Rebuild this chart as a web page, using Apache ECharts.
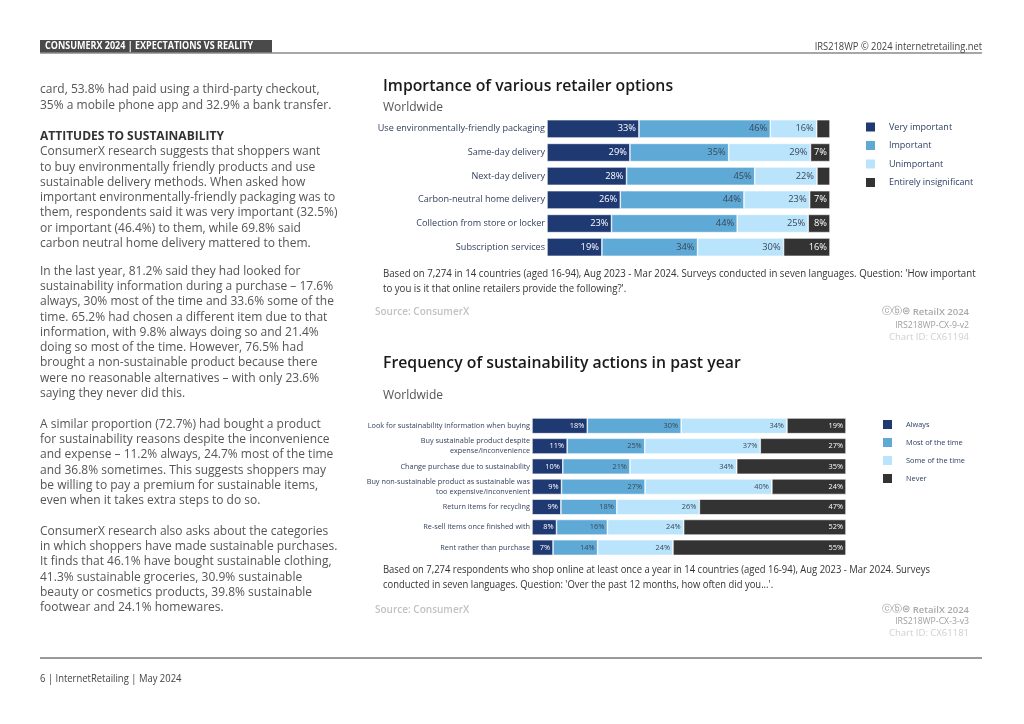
<!DOCTYPE html>
<html>
<head>
<meta charset="utf-8">
<script src="https://cdn.jsdelivr.net/npm/echarts@6/dist/echarts.min.js"></script>
<style>
html,body{margin:0;padding:0;background:#fff;}
#main{width:1024px;height:724px;}
</style>
</head>
<body>
<div id="main"></div>
<script>
// ---- Chart 1 data ----
const cats1 = ['Use environmentally-friendly packaging','Same-day delivery','Next-day delivery','Carbon-neutral home delivery','Collection from store or locker','Subscription services'];
const names1 = ['Very important','Important','Unimportant','Entirely insignificant'];
const veryImportant = [32.5, 29.3, 28.1, 25.9, 22.8, 19.4];
const important = [46.4, 34.9, 45.3, 43.7, 44.4, 33.8];
const unimportant = [16.4, 28.9, 22.0, 23.2, 25.1, 30.4];
const insignificant = [4.7, 6.9, 4.6, 7.2, 7.7, 16.4];

// ---- Chart 2 data ----
const cats2 = ['Look for sustainability information when buying','Buy sustainable product despite\nexpense/inconvenience','Change purchase due to sustainability','Buy non-sustainable product as sustainable was\ntoo expensive/inconvenient','Return items for recycling','Re-sell items once finished with','Rent rather than purchase'];
const names2 = ['Always','Most of the time','Some of the time','Never'];
const always = [17.6, 11.2, 9.8, 9.4, 9.2, 7.8, 6.7];
const mostTime = [29.9, 24.7, 21.4, 26.6, 17.8, 16.2, 14.2];
const someTime = [33.7, 36.8, 34.0, 40.4, 26.3, 24.3, 24.0];
const never = [18.8, 27.3, 34.8, 23.6, 46.7, 51.7, 55.1];

const colors = ['#1f3a73', '#5fa9d6', '#b9e4fb', '#333333'];
const labelColors = ['#ffffff', '#3b4756', '#3b4756', '#ffffff'];

const FONT = "'Open Sans', 'Noto Sans', sans-serif";

function mkSeries(names, arrays, axisIdx, fontSize) {
  return arrays.map((arr, i) => ({
    name: names[i],
    type: 'bar',
    stack: 'total' + axisIdx,
    xAxisIndex: axisIdx,
    yAxisIndex: axisIdx,
    data: arr,
    barCategoryGap: '23%',
    itemStyle: { color: colors[i], borderColor: '#ffffff', borderWidth: 0.6 },
    label: {
      show: true,
      position: 'insideRight',
      distance: 3,
      color: labelColors[i],
      fontFamily: FONT,
      fontSize: fontSize,
      formatter: p => p.value < 5 ? '' : Math.round(p.value) + '%'
    },
    emphasis: { disabled: true },
    animation: false
  }));
}

function txt(text, x, y, opts, el) {
  return Object.assign({
    type: 'text',
    x: x, y: y,
    silent: true,
    style: Object.assign({
      text: text,
      fill: '#555555',
      fontFamily: FONT,
      fontSize: 12,
      textVerticalAlign: 'middle',
      textAlign: 'left'
    }, opts || {})
  }, el || {});
}

const LH = 15.25;
function para(text, x, firstCenterY, opts, el) {
  const lh = (opts && opts.lineHeight) || LH;
  return txt(text, x, firstCenterY - lh / 2, Object.assign({ lineHeight: lh, textVerticalAlign: 'top' }, opts || {}), el);
}

const graphics = [
  // header
  { type: 'rect', shape: { x: 40, y: 40, width: 232, height: 13 }, style: { fill: '#4a4a4a' }, silent: true },
  { type: 'line', shape: { x1: 40, y1: 53, x2: 982, y2: 53 }, style: { stroke: '#8a8a8a', lineWidth: 1.5 }, silent: true },
  txt('CONSUMERX 2024 | EXPECTATIONS VS REALITY', 45, 46.5, { fill: '#ffffff', fontWeight: 'bold', fontSize: 10 }, { scaleX: 0.9 }),
  txt('IRS218WP \u00a9 2024 internetretailing.net', 982, 46.5, { fill: '#444444', fontSize: 11, textAlign: 'right' }, { scaleX: 0.85 }),
  // footer
  { type: 'line', shape: { x1: 40, y1: 658, x2: 982, y2: 658 }, style: { stroke: '#9a9a9a', lineWidth: 2 }, silent: true },
  txt('6 | InternetRetailing | May 2024', 40, 679, { fill: '#444444', fontSize: 10.5 }, { scaleX: 0.9 }),
  // left column
  para('card, 53.8% had paid using a third-party checkout,\n35% a mobile phone app and 32.9% a bank transfer.', 40, 90),
  txt('ATTITUDES TO SUSTAINABILITY', 40, 136.7, { fill: '#333333', fontWeight: 'bold' }),
  para('ConsumerX research suggests that shoppers want\nto buy environmentally friendly products and use\nsustainable delivery methods. When asked how\nimportant environmentally-friendly packaging was to\nthem, respondents said it was very important (32.5%)\nor important (46.4%) to them, while 69.8% said\ncarbon neutral home delivery mattered to them.', 40, 152),
  para('In the last year, 81.2% said they had looked for\nsustainability information during a purchase \u2013 17.6%\nalways, 30% most of the time and 33.6% some of the\ntime. 65.2% had chosen a different item due to that\ninformation, with 9.8% always doing so and 21.4%\ndoing so most of the time. However, 76.5% had\nbrought a non-sustainable product because there\nwere no reasonable alternatives \u2013 with only 23.6%\nsaying they never did this.', 40, 271.5),
  para('A similar proportion (72.7%) had bought a product\nfor sustainability reasons despite the inconvenience\nand expense \u2013 11.2% always, 24.7% most of the time\nand 36.8% sometimes. This suggests shoppers may\nbe willing to pay a premium for sustainable items,\neven when it takes extra steps to do so.', 40, 424.5),
  para('ConsumerX research also asks about the categories\nin which shoppers have made sustainable purchases.\nIt finds that 46.1% have bought sustainable clothing,\n41.3% sustainable groceries, 30.9% sustainable\nbeauty or cosmetics products, 39.8% sustainable\nfootwear and 24.1% homewares.', 40, 531.5),
  // chart 1 titles and notes
  txt('Importance of various retailer options', 383, 86.5, { fill: '#1a1a1a', fontSize: 15.8, fontWeight: 600 }),
  txt('Worldwide', 383, 107.5, { fill: '#555555', fontSize: 12 }),
  para("Based on 7,274 in 14 countries (aged 16-94), Aug 2023 - Mar 2024. Surveys conducted in seven languages. Question: 'How important\nto you is it that online retailers provide the following?'.", 383, 274, { fill: '#333333', fontSize: 10.5, lineHeight: 15 }, { scaleX: 0.92 }),
  txt('Source: ConsumerX', 375, 312.5, { fill: '#c2c2c2', fontSize: 10, fontWeight: 600 }),
  txt('\u24d2\u24d1\u229c', 910, 311.5, { fill: '#9a9a9a', fontSize: 10, textAlign: 'right' }),
  txt('RetailX 2024', 969, 312.5, { fill: '#a8a8a8', fontSize: 9.5, fontWeight: 600, textAlign: 'right' }),
  txt('IRS218WP-CX-9-v2', 969, 325.5, { fill: '#a0a0a0', fontSize: 8.7, textAlign: 'right' }),
  txt('Chart ID: CX61194', 969, 337, { fill: '#cfcfcf', fontSize: 9.5, textAlign: 'right' }),
  // chart 2 titles and notes
  txt('Frequency of sustainability actions in past year', 383, 363.5, { fill: '#1a1a1a', fontSize: 15.8, fontWeight: 600 }),
  txt('Worldwide', 383, 395.5, { fill: '#555555', fontSize: 12 }),
  para("Based on 7,274 respondents who shop online at least once a year in 14 countries (aged 16-94), Aug 2023 - Mar 2024. Surveys\nconducted in seven languages. Question: 'Over the past 12 months, how often did you...'.", 383, 570.5, { fill: '#333333', fontSize: 10.5, lineHeight: 15 }, { scaleX: 0.9 }),
  txt('Source: ConsumerX', 375, 610, { fill: '#c2c2c2', fontSize: 10, fontWeight: 600 }),
  txt('\u24d2\u24d1\u229c', 910, 609, { fill: '#9a9a9a', fontSize: 10, textAlign: 'right' }),
  txt('RetailX 2024', 969, 610, { fill: '#a8a8a8', fontSize: 9.5, fontWeight: 600, textAlign: 'right' }),
  txt('IRS218WP-CX-3-v3', 969, 622, { fill: '#a0a0a0', fontSize: 8.7, textAlign: 'right' }),
  txt('Chart ID: CX61181', 969, 633.5, { fill: '#cfcfcf', fontSize: 9.5, textAlign: 'right' })
];

const chart = echarts.init(document.getElementById('main'), null, { renderer: 'canvas' });
const option = {
  backgroundColor: '#ffffff',
  animation: false,
  color: colors,
  grid: [
    { left: 547, right: 194, top: 117, height: 142, containLabel: false },
    { left: 532, right: 178, top: 415.7, height: 142, containLabel: false }
  ],
  xAxis: [
    { type: 'value', gridIndex: 0, min: 0, max: 100, show: false },
    { type: 'value', gridIndex: 1, min: 0, max: 100, show: false }
  ],
  yAxis: [
    { type: 'category', gridIndex: 0, data: cats1, inverse: true,
      axisLine: { show: false }, axisTick: { show: false }, splitLine: { show: false },
      axisLabel: { color: '#34415e', fontFamily: FONT, fontSize: 9.1, margin: 2 } },
    { type: 'category', gridIndex: 1, data: cats2, inverse: true,
      axisLine: { show: false }, axisTick: { show: false }, splitLine: { show: false },
      axisLabel: { color: '#34415e', fontFamily: FONT, fontSize: 7.3, lineHeight: 9.5, margin: 2 } }
  ],
  legend: [
    { data: names1, orient: 'vertical', left: 864, top: 120.5, padding: 0, itemWidth: 11, itemHeight: 11, itemGap: 5.5,
      icon: 'rect', selectedMode: false,
      textStyle: { color: '#2c3e63', fontFamily: FONT, fontSize: 9, lineHeight: 11, padding: [0, 0, 0, 8] } },
    { data: names2, orient: 'vertical', left: 881, top: 418, padding: 0, itemWidth: 11, itemHeight: 11, itemGap: 5,
      icon: 'rect', selectedMode: false,
      textStyle: { color: '#2c3e63', fontFamily: FONT, fontSize: 7.4, lineHeight: 11, padding: [0, 0, 0, 8] } }
  ],
  tooltip: { show: false },
  series: [].concat(
    mkSeries(names1, [veryImportant, important, unimportant, insignificant], 0, 9.3),
    mkSeries(names2, [always, mostTime, someTime, never], 1, 7.4)
  ),
  graphic: graphics
};
chart.setOption(option);
</script>
</body>
</html>
